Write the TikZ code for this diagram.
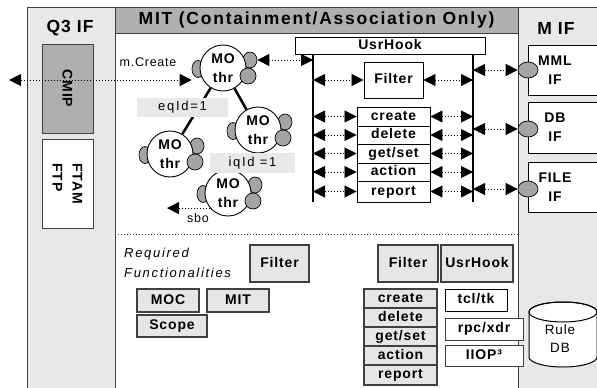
\documentclass[tikz,border=0pt]{standalone}
\usepackage{fontspec}
\setmainfont{Liberation Sans}
\newfontfamily\lab{Liberation Sans}[LetterSpace=6]
\newfontfamily\lbw{Liberation Sans}[LetterSpace=13]
\newfontfamily\hdr{Liberation Sans}[LetterSpace=10]
\usetikzlibrary{arrows.meta,shapes.geometric}
\definecolor{panel}{HTML}{E8E8E8}
\definecolor{hdrgray}{HTML}{B0B0B0}
\definecolor{cmipgray}{HTML}{AFAFAF}
\definecolor{blobgray}{HTML}{A4A4A4}
\definecolor{edgegray}{HTML}{404040}
\definecolor{lightbox}{HTML}{E6E6E6}
\tikzset{
  tri/.tip={Triangle[length=12pt,width=12pt]},
  panelbg/.style={draw=edgegray, line width=1pt, fill=panel},
  bfont/.style={font=\lab\bfseries\fontsize{14}{16}\selectfont},
  wbox/.style={draw=black, line width=0.9pt, fill=white, inner sep=0pt, bfont, text height=10pt, text depth=2.8pt},
  gbox/.style={wbox, fill=lightbox, draw=edgegray, line width=1.1pt},
  darr/.style={draw=black, line width=0.8pt, dash pattern=on 1pt off 2pt, arrows={tri-tri}},
  sarr/.style={draw=black, line width=0.8pt, dash pattern=on 1pt off 2pt, arrows={-tri}},
  mo/.style={circle, draw=black, line width=0.9pt, fill=white, minimum size=46pt, inner sep=0pt, align=center, font=\lab\bfseries\fontsize{14}{18.5}\selectfont},
  blob/.style={ellipse, draw=black, line width=0.7pt, fill=blobgray, inner sep=0pt},
  lbl/.style={font=\lab\fontsize{12.5}{14}\selectfont, inner sep=0pt},
  idlbl/.style={fill=panel, inner sep=0pt, font=\lbw\fontsize{13}{15}\selectfont},
  vline/.style={draw=black, line width=1.8pt},
  tie/.style={draw=black, line width=2.5pt},
  mifbox/.style={draw=black, line width=0.9pt, fill=white, inner sep=0pt},
  miftext/.style={align=center, inner sep=0pt, font=\lab\bfseries\fontsize{14}{19}\selectfont},
  ttl/.style={font=\lab\bfseries\fontsize{17.5}{19}\selectfont, inner sep=0pt},
}
\begin{document}
\begin{tikzpicture}[x=1pt,y=-1pt]
\useasboundingbox (0,0) rectangle (597,388);
\clip (0,0) rectangle (597,388);
% panels
\path[panelbg] (27,7) rectangle (115,400);
\path[panelbg] (518,7) rectangle (610,400);
\path[draw=edgegray, line width=1pt, fill=white] (115,7) rectangle (518,400);
\path[draw=edgegray, line width=1pt, fill=hdrgray] (115,7) rectangle (518,33);
\node[font=\hdr\bfseries\fontsize{17.5}{19}\selectfont, inner sep=0pt] (hdr) at (316.5,20) {MIT (Containment/Association Only)};
\node[ttl] (q3) at (70,28.5) {Q3 IF};
\node[ttl] (mif) at (556,28.5) {M IF};
% left panel boxes
\node[draw=edgegray, line width=1pt, fill=cmipgray, rotate=-90, minimum width=89pt, minimum height=51pt, inner sep=0pt, bfont] (cmip) at (67.5,88.5) {CMIP};
\node[draw=edgegray, line width=1pt, fill=white, rotate=-90, minimum width=89pt, minimum height=51pt, inner sep=0pt, align=left, font=\lab\bfseries\fontsize{14}{20}\selectfont] (ftam) at (67.5,183.5) {FTAM\\FTP};
% right panel boxes
\node[mifbox, minimum width=82pt, minimum height=50pt] (mml) at (569,70) {};
\node[miftext] (mmlT) at (555,70) {MML\\IF};
\node[mifbox, minimum width=82pt, minimum height=51pt] (db) at (569,127.5) {};
\node[miftext] (dbT) at (555,127) {DB\\IF};
\node[mifbox, minimum width=82pt, minimum height=50pt] (file) at (569,187) {};
\node[miftext] (fileT) at (555,187) {FILE\\IF};
\node[blob, minimum width=20pt, minimum height=16pt] (mmlE) at (528,70) {};
\node[blob, minimum width=20pt, minimum height=16pt] (dbE) at (528,129) {};
\node[blob, minimum width=20pt, minimum height=16pt] (fileE) at (528,189) {};
% separator
\draw[edgegray, line width=0.8pt, dash pattern=on 1pt off 2pt] (115,234) -- (518,234);
% central structure
\node[wbox, minimum width=190pt, minimum height=17pt] (ush) at (390,45.5) {UsrHook};
\coordinate (vl1) at (313,54);
\coordinate (vl2) at (313,202);
\coordinate (vr1) at (473,54);
\coordinate (vr2) at (473,202);
\draw[vline] (vl1) -- (vl2);
\draw[vline] (vr1) -- (vr2);
\node[wbox, minimum width=59pt, minimum height=36pt] (filt) at (393.5,80) {Filter};
\node[wbox, minimum width=73pt, minimum height=19pt] (create) at (393.5,116.5) {create};
\node[wbox, minimum width=73pt, minimum height=18pt] (delete) at (393.5,135) {delete};
\node[wbox, minimum width=73pt, minimum height=19pt] (getset) at (393.5,153.5) {get/set};
\node[wbox, minimum width=73pt, minimum height=18pt] (action) at (393.5,172) {action};
\node[wbox, minimum width=73pt, minimum height=21pt] (report) at (393.5,191.5) {report};
\draw[darr] (vl1 |- filt.west) -- (filt.west);
\draw[darr] (filt.east) -- (vr1 |- filt.east);
\foreach \r in {create,delete,getset,action,report} {
  \draw[darr] (vl1 |- \r.west) -- (\r.west);
  \draw[darr] (\r.east) -- (vr1 |- \r.east);
}
\draw[darr] (vr1 |- mmlE.west) -- (mmlE.west);
\draw[darr] (vr1 |- dbE.west) -- (dbE.west);
\draw[darr] (vr1 |- fileE.west) -- (fileE.west);
% MO objects
\foreach \n/\x/\y in {mo1/223/68, mo2/258/130, mo3/170/154, mo4/228/193} {
  \node[blob, minimum width=12pt, minimum height=17pt] (\n-L) at (\x-25,\y+1) {};
  \node[blob, minimum width=14pt, minimum height=16pt] (\n-U) at (\x+27,\y-8) {};
  \node[mo] (\n) at (\x,\y) {MO\\thr};
  \node[blob, circle, minimum size=16pt] (\n-D) at (\x+25,\y+8) {};
}
\draw[tie] (mo1) -- (mo2);
\draw[tie] (mo1) -- (mo3);
\node[idlbl, minimum width=91pt, minimum height=19pt] (eq) at (182.5,107.5) {eqId=1};
\node[idlbl, minimum width=85pt, minimum height=20pt] (iq) at (252.5,163) {iqId =1};
\draw[darr] (mo1-U.east) -- (mo1-U.east -| vl1);
\coordinate (mcL) at (9,80);
\draw[darr] (mcL) -- (mcL -| mo1-L.west);
\node[lbl] (mcreate) at (148,62) {m.Create};
\coordinate (sboEnd) at (167,208);
\draw[sarr] (mo4.220) -- (mo4.220 -| sboEnd);
\node[lbl] (sbo) at (198,218) {sbo};
% bottom section
\node[anchor=west, align=left, inner sep=0pt, font=\lbw\itshape\fontsize{13}{20}\selectfont] (req) at (124,263) {Required\\Functionalities};
\node[gbox, minimum width=59pt, minimum height=37pt] (filtB) at (279.5,263.5) {Filter};
\node[gbox, minimum width=62pt, minimum height=23pt] (moc) at (168,300.5) {MOC};
\node[gbox, minimum width=62pt, minimum height=23pt] (mit) at (238,300.5) {MIT};
\node[gbox, minimum width=70pt, minimum height=22pt] (scope) at (172,326) {Scope};
\node[gbox, minimum width=60pt, minimum height=37pt] (filtC) at (408,263.5) {Filter};
\node[gbox, minimum width=72pt, minimum height=37pt] (ushB) at (477,263.5) {UsrHook};
\node[gbox, minimum width=73pt, minimum height=19pt] (createB) at (400.5,298.5) {create};
\node[gbox, minimum width=73pt, minimum height=19pt] (deleteB) at (400.5,317.5) {delete};
\node[gbox, minimum width=73pt, minimum height=19pt] (getsetB) at (400.5,336.5) {get/set};
\node[gbox, minimum width=73pt, minimum height=19pt] (actionB) at (400.5,355.5) {action};
\node[gbox, minimum width=73pt, minimum height=20pt] (reportB) at (400.5,375) {report};
\node[wbox, minimum width=62pt, minimum height=22pt] (tcl) at (476,300) {tcl/tk};
\node[wbox, draw=edgegray, minimum width=78pt, minimum height=22pt] (rpc) at (484,329) {rpc/xdr};
\node[wbox, draw=edgegray, minimum width=78pt, minimum height=21pt] (iiop) at (484,355.5) {IIOP³};
% Rule DB cylinder
\path[draw=black, line width=1pt, fill=white] (529,312) -- (529,357) arc[start angle=180, end angle=0, x radius=34, y radius=10] -- (597,312) arc[start angle=0, end angle=-180, x radius=34, y radius=10] -- cycle;
\draw[black, line width=1pt] (563,312) ellipse [x radius=34, y radius=10];
\node[align=center, inner sep=0pt, font=\lab\fontsize{13.5}{18}\selectfont] (rule) at (560,339) {Rule\\DB};
\end{tikzpicture}
\end{document}
